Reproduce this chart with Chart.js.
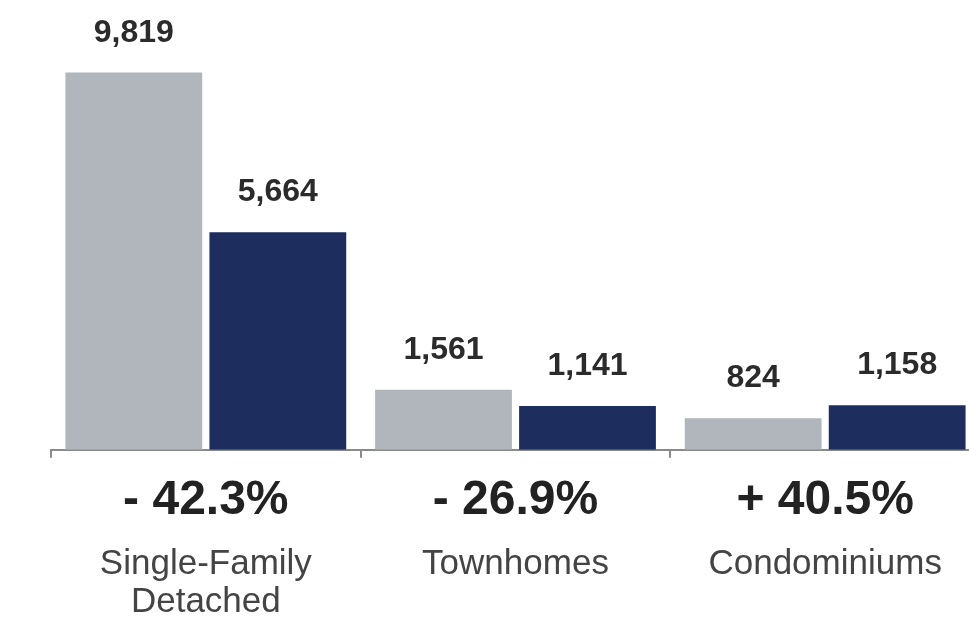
<!DOCTYPE html>
<html>
<head>
<meta charset="utf-8">
<script src="https://cdn.jsdelivr.net/npm/chart.js@4"></script>
<style>
    html, body { margin: 0; padding: 0; background: #fff; overflow: hidden; }
    #wrap { width: 969px; height: 617px; overflow: hidden; }
</style>
</head>
<body>
<div id="wrap"><canvas id="myChart" width="990" height="623"></canvas></div>
<script>
// chart data
const categories = [["Single-Family", "Detached"], "Townhomes", "Condominiums"];
const changeLabels = ["- 42.3%", "- 26.9%", "+ 40.5%"];
const priorValues = [9819, 1561, 824];
const currentValues = [5664, 1141, 1158];

// draws the value above each bar
const valueLabels = {
    id: "valueLabels",
    afterDatasetsDraw(chart) {
        const ctx = chart.ctx;
        ctx.save();
        ctx.font = "bold 32px 'Liberation Sans', Arial, sans-serif";
        ctx.fillStyle = "#2b2b2b";
        ctx.textAlign = "center";
        ctx.textBaseline = "alphabetic";
        chart.data.datasets.forEach((ds, i) => {
            const meta = chart.getDatasetMeta(i);
            meta.data.forEach((bar, j) => {
                ctx.fillText(ds.data[j].toLocaleString("en-US"), bar.x, bar.y - 31);
            });
        });
        ctx.restore();
    }
};

new Chart(document.getElementById("myChart"), {
    type: "bar",
    data: {
        labels: changeLabels,
        datasets: [{
            label: "Prior",
            data: priorValues,
            backgroundColor: "#b1b6bc",
            categoryPercentage: 0.93,
            barPercentage: 0.95
        }, {
            label: "Current",
            data: currentValues,
            backgroundColor: "#1c2d5e",
            categoryPercentage: 0.93,
            barPercentage: 0.95
        }]
    },
    options: {
        responsive: false,
        animation: false,
        layout: {
            padding: { left: 51, right: 10, top: 8, bottom: 0 }
        },
        plugins: {
            legend: { display: false },
            tooltip: { enabled: false }
        },
        scales: {
            y: {
                display: false,
                min: 0,
                max: 11500
            },
            x: {
                position: "bottom",
                grid: {
                    drawOnChartArea: false,
                    drawTicks: true,
                    tickLength: 8,
                    color: "#8a8a8a",
                    lineWidth: 2
                },
                border: { display: true, color: "#8a8a8a", width: 2 },
                ticks: {
                    color: "#222",
                    padding: 14,
                    maxRotation: 0,
                    autoSkip: false,
                    font: { family: "'Liberation Sans', Arial, sans-serif", size: 48, weight: "bold", lineHeight: 1.2 }
                }
            },
            x2: {
                type: "category",
                position: "bottom",
                labels: categories,
                grid: { display: false, drawTicks: false },
                border: { display: false },
                ticks: {
                    color: "#444",
                    padding: 2,
                    maxRotation: 0,
                    autoSkip: false,
                    font: { family: "'Liberation Sans', Arial, sans-serif", size: 35, lineHeight: 1.08 }
                }
            }
        }
    },
    plugins: [valueLabels]
});
</script>
</body>
</html>
